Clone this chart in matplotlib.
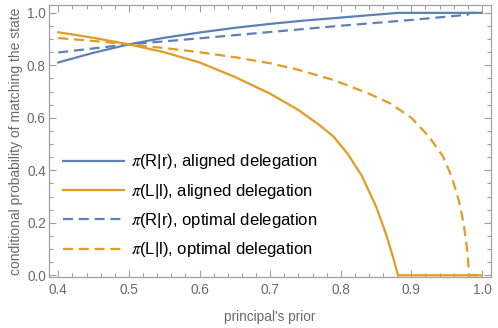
"""
Conditional probability of matching the state vs. the principal's prior
"""
import matplotlib
matplotlib.use('Agg')
import matplotlib.pyplot as plt
from matplotlib.ticker import MultipleLocator

plt.rcParams['font.family'] = ['Liberation Sans', 'DejaVu Sans']
plt.rcParams['mathtext.fontset'] = 'stix'

# values
prior_rr_aligned = [0.40, 0.45, 0.50, 0.55, 0.60, 0.65, 0.70, 0.75, 0.80, 0.84, 0.881, 1.0]
rr_aligned = [0.811, 0.848, 0.880, 0.905, 0.925, 0.943, 0.958, 0.971, 0.982, 0.991, 1.0, 1.0]

prior_ll_aligned = [0.40, 0.45, 0.50, 0.55, 0.60, 0.65, 0.70, 0.74, 0.77, 0.79, 0.81,
                    0.83, 0.85, 0.865, 0.875, 0.881, 1.0]
ll_aligned = [0.926, 0.905, 0.880, 0.850, 0.811, 0.756, 0.692, 0.630, 0.572, 0.528, 0.462,
              0.378, 0.262, 0.150, 0.060, 0.0, 0.0]

prior_rr_optimal = [0.40, 0.50, 0.60, 0.70, 0.80, 0.90, 0.98, 0.982, 1.0]
rr_optimal = [0.849, 0.880, 0.903, 0.927, 0.951, 0.973, 0.993, 1.0, 1.0]

prior_ll_optimal = [0.40, 0.45, 0.50, 0.55, 0.60, 0.65, 0.70, 0.74, 0.79, 0.84, 0.87, 0.90,
                    0.925, 0.945, 0.957, 0.967, 0.974, 0.979, 0.982, 1.0]
ll_optimal = [0.904, 0.893, 0.880, 0.866, 0.850, 0.831, 0.808, 0.783, 0.744, 0.692, 0.655,
              0.600, 0.528, 0.452, 0.376, 0.287, 0.198, 0.096, 0.0, 0.0]

labels = [r'$\pi$(R|r), aligned delegation',
          r'$\pi$(L|l), aligned delegation',
          r'$\pi$(R|r), optimal delegation',
          r'$\pi$(L|l), optimal delegation']

blue = '#5E81B5'
orange = '#E19C24'
frame_gray = '#a0a0a0'
text_gray = '#6a6a6a'

fig = plt.figure(figsize=(4.98, 3.28), dpi=100)
ax = fig.add_axes([0.099, 0.1555, 0.8863, 0.8293])

lw = 1.6
dash = (4.5, 2.6)
ax.plot(prior_rr_aligned, rr_aligned, color=blue, lw=lw, label=labels[0])
ax.plot(prior_ll_aligned, ll_aligned, color=orange, lw=lw, label=labels[1])
ax.plot(prior_rr_optimal, rr_optimal, color=blue, lw=lw, dashes=dash, label=labels[2])
ax.plot(prior_ll_optimal, ll_optimal, color=orange, lw=lw, dashes=dash, label=labels[3])

ax.set_xlim(0.3873, 1.0123)
ax.set_ylim(-0.0065, 1.030)

ax.xaxis.set_major_locator(MultipleLocator(0.1))
ax.xaxis.set_minor_locator(MultipleLocator(0.02))
ax.yaxis.set_major_locator(MultipleLocator(0.2))
ax.yaxis.set_minor_locator(MultipleLocator(0.05))
ax.xaxis.set_major_formatter(plt.FuncFormatter(lambda v, p: f'{v:.1f}'))
ax.yaxis.set_major_formatter(plt.FuncFormatter(lambda v, p: f'{v:.1f}'))

ax.tick_params(which='both', direction='in', top=True, right=True, color=frame_gray,
               labelcolor=text_gray, labelsize=9.8, width=0.8)
ax.tick_params(which='major', length=5)
ax.tick_params(which='minor', length=2.8)
ax.tick_params(axis='x', pad=4.5)
ax.tick_params(axis='y', pad=2.5)
for spine in ax.spines.values():
    spine.set_color(frame_gray)
    spine.set_linewidth(0.9)

ax.set_xlabel("principal's prior", color=text_gray, fontsize=9.8, labelpad=9)
ax.set_ylabel('conditional probability of matching the state', color=text_gray,
              fontsize=10, labelpad=3)

leg = ax.legend(loc='upper left', bbox_to_anchor=(0.031, 0.458), frameon=False,
                fontsize=12, handlelength=3.65, handletextpad=0.45, labelspacing=0.62,
                borderpad=0, borderaxespad=0)

fig.savefig('out.png', dpi=100)
